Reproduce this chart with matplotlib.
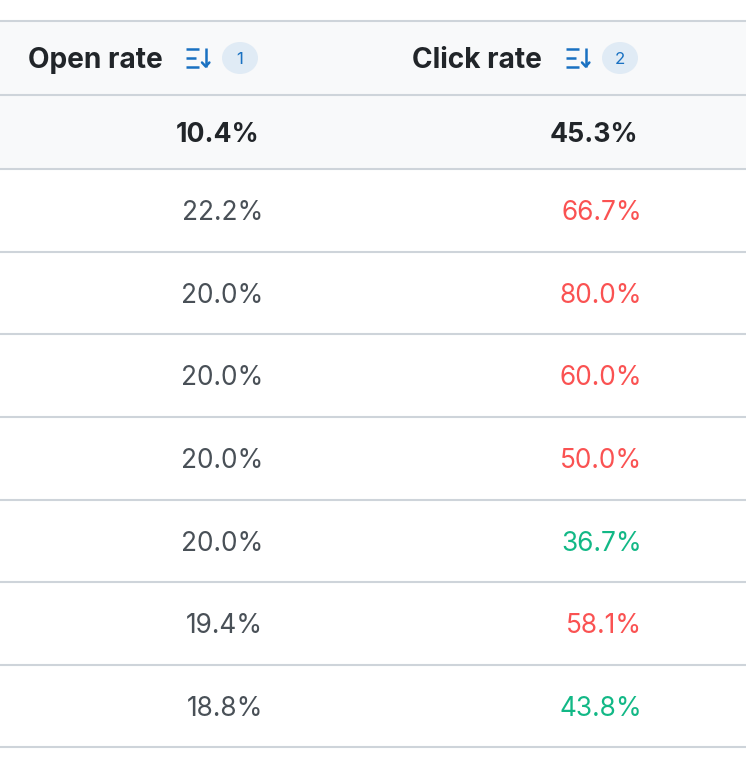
import matplotlib
matplotlib.use("Agg")
import matplotlib.pyplot as plt
from matplotlib.patches import Ellipse, Rectangle

headers = ["Open rate", "Click rate"]
sort_ranks = ["1", "2"]
total_values = [10.4, 45.3]
open_rate = [22.2, 20.0, 20.0, 20.0, 20.0, 19.4, 18.8]
click_rate = [66.7, 80.0, 60.0, 50.0, 36.7, 58.1, 43.8]
click_colors = ["#fa5252", "#fa5252", "#fa5252", "#fa5252", "#12b886", "#fa5252", "#12b886"]

W, H = 746, 758
INK, GREY, LINE, SHADE, BLUE, BADGE = "#212529", "#495057", "#ced4da", "#f8f9fa", "#1971c2", "#e0ebf5"
FS = 18.9
plt.rcParams["font.family"] = ["Inter", "DejaVu Sans"]

fig = plt.figure(figsize=(W / 100, H / 100), dpi=100, facecolor="white")
ax = fig.add_axes([0, 0, 1, 1])
ax.set_xlim(0, W)
ax.set_ylim(H, 0)
ax.axis("off")

rule_y = [21, 95, 169, 252, 334, 417, 500, 582, 665, 747]
ax.add_patch(Rectangle((0, rule_y[0]), W, rule_y[2] - rule_y[0], fc=SHADE, ec="none", zorder=0))
for y in rule_y:
    ax.plot([0, W], [y, y], color=LINE, lw=1.5, solid_capstyle="butt", zorder=1)

def sort_icon(x0):
    for y, w in [(49, 13), (57.5, 10), (66.5, 13)]:
        ax.plot([x0, x0 + w], [y, y], color=BLUE, lw=1.8, solid_capstyle="butt")
    ax.plot([x0 + 19.7, x0 + 19.7], [48, 66.5], color=BLUE, lw=1.8, solid_capstyle="butt")
    ax.plot([x0 + 16, x0 + 19.7, x0 + 23.4], [62.5, 66.5, 62.5], color=BLUE, lw=1.8, solid_capstyle="round")

header_x = [28, 412]
icon_x = [186, 566]
badge_x = [240, 620]
for name, rank, hx, ix, bx in zip(headers, sort_ranks, header_x, icon_x, badge_x):
    ax.text(hx, 58, name, fontsize=20.2, fontweight="bold", color=INK, ha="left", va="center_baseline")
    sort_icon(ix)
    ax.add_patch(Ellipse((bx, 58), 36, 32, fc=BADGE, ec="none"))
    ax.text(bx, 58, rank, fontsize=12.2, color=BLUE, ha="center", va="center_baseline")

for v, x in zip(total_values, [259, 638]):
    ax.text(x, 132, f"{v:.1f}%", fontsize=19.2, fontweight="bold", color=INK, ha="right", va="center_baseline")

row_y = [210, 293, 375, 458, 541, 623, 706]
for y, o, c, col in zip(row_y, open_rate, click_rate, click_colors):
    ax.text(263, y, f"{o:.1f}%", fontsize=FS, color=GREY, ha="right", va="center_baseline")
    ax.text(642, y, f"{c:.1f}%", fontsize=FS, color=col, ha="right", va="center_baseline")

fig.savefig("out.png", dpi=100)
